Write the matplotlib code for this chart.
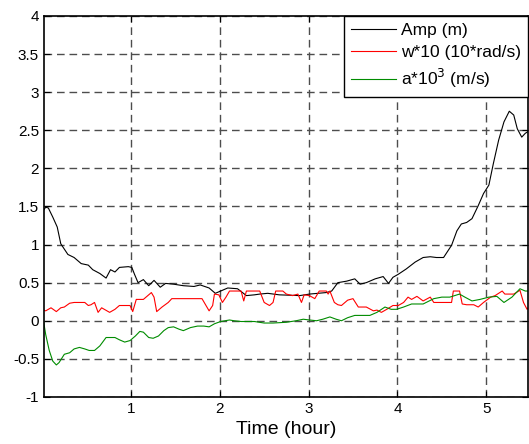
import matplotlib
matplotlib.use('Agg')
import matplotlib.pyplot as plt

plt.rcParams['font.family'] = ['Liberation Sans', 'DejaVu Sans']

# Amp (m)
amp_t = [0.015, 0.04, 0.07, 0.12, 0.17, 0.21, 0.29, 0.36, 0.44, 0.52, 0.57, 0.65, 0.72,
         0.77, 0.82, 0.87, 0.97, 1.01, 1.04, 1.08, 1.14, 1.20, 1.26, 1.33, 1.39, 1.48,
         1.59, 1.71, 1.78, 1.88, 1.95, 2.01, 2.09, 2.20, 2.30, 2.39, 2.45, 2.54, 2.67,
         2.90, 3.01, 3.20, 3.26, 3.33, 3.43, 3.52, 3.58, 3.65, 3.75, 3.84, 3.90, 3.95,
         4.01, 4.10, 4.20, 4.29, 4.37, 4.44, 4.52, 4.61, 4.67, 4.72, 4.78, 4.84, 4.91,
         4.97, 5.03, 5.08, 5.14, 5.20, 5.26, 5.31, 5.35, 5.40, 5.44, 5.48]
amp_v = [1.45, 1.49, 1.48, 1.36, 1.23, 1.01, 0.87, 0.83, 0.75, 0.73, 0.67, 0.62, 0.56,
         0.67, 0.64, 0.70, 0.71, 0.70, 0.61, 0.50, 0.54, 0.46, 0.53, 0.44, 0.49, 0.48,
         0.46, 0.45, 0.47, 0.43, 0.36, 0.39, 0.43, 0.42, 0.33, 0.34, 0.35, 0.36, 0.34,
         0.33, 0.35, 0.37, 0.39, 0.50, 0.52, 0.55, 0.48, 0.50, 0.55, 0.58, 0.49, 0.57,
         0.61, 0.68, 0.77, 0.83, 0.84, 0.83, 0.83, 0.99, 1.18, 1.27, 1.29, 1.34, 1.51,
         1.67, 1.78, 2.06, 2.37, 2.61, 2.75, 2.70, 2.52, 2.41, 2.46, 2.49]

# w*10 (10*rad/s)
w_t = [0.015, 0.04, 0.10, 0.16, 0.21, 0.25, 0.31, 0.36, 0.48, 0.52, 0.55, 0.59, 0.63,
       0.67, 0.70, 0.76, 0.82, 0.87, 0.99, 1.02, 1.06, 1.14, 1.23, 1.26, 1.29, 1.35,
       1.42, 1.46, 1.80, 1.84, 1.88, 1.92, 1.94, 1.99, 2.03, 2.07, 2.11, 2.24, 2.27,
       2.30, 2.45, 2.50, 2.56, 2.60, 2.63, 2.71, 2.75, 2.82, 2.88, 2.92, 2.95, 3.01,
       3.07, 3.12, 3.20, 3.22, 3.24, 3.29, 3.33, 3.37, 3.44, 3.50, 3.56, 3.65, 3.73,
       3.77, 3.82, 3.88, 3.95, 4.01, 4.07, 4.12, 4.16, 4.22, 4.29, 4.37, 4.41, 4.61,
       4.63, 4.70, 4.73, 4.78, 4.86, 4.91, 4.97, 5.05, 5.10, 5.18, 5.21, 5.31, 5.38,
       5.42, 5.46, 5.48]
w_v = [0.14, 0.13, 0.17, 0.12, 0.17, 0.18, 0.23, 0.24, 0.24, 0.20, 0.21, 0.24, 0.11,
       0.17, 0.15, 0.11, 0.15, 0.20, 0.20, 0.12, 0.28, 0.28, 0.37, 0.31, 0.12, 0.18,
       0.24, 0.29, 0.29, 0.21, 0.13, 0.20, 0.35, 0.34, 0.24, 0.31, 0.39, 0.39, 0.26,
       0.39, 0.39, 0.24, 0.20, 0.24, 0.39, 0.39, 0.35, 0.33, 0.35, 0.24, 0.34, 0.33,
       0.29, 0.39, 0.39, 0.35, 0.39, 0.24, 0.21, 0.20, 0.27, 0.29, 0.18, 0.18, 0.13,
       0.14, 0.11, 0.15, 0.20, 0.20, 0.24, 0.31, 0.28, 0.32, 0.26, 0.31, 0.24, 0.24,
       0.39, 0.39, 0.22, 0.21, 0.21, 0.18, 0.24, 0.31, 0.33, 0.39, 0.35, 0.35, 0.40,
       0.24, 0.15, 0.18]

# a*10^3 (m/s)
a_t = [0.015, 0.04, 0.08, 0.12, 0.16, 0.19, 0.25, 0.31, 0.36, 0.42, 0.48, 0.53, 0.59,
       0.65, 0.72, 0.82, 0.87, 0.93, 0.99, 1.05, 1.10, 1.14, 1.20, 1.25, 1.31, 1.37,
       1.42, 1.48, 1.54, 1.59, 1.67, 1.75, 1.82, 1.88, 1.94, 2.01, 2.11, 2.16, 2.24,
       2.39, 2.50, 2.60, 2.75, 2.86, 2.94, 3.01, 3.09, 3.16, 3.24, 3.31, 3.37, 3.44,
       3.52, 3.69, 3.77, 3.86, 3.93, 3.99, 4.07, 4.16, 4.29, 4.41, 4.50, 4.59, 4.70,
       4.76, 4.84, 4.93, 5.03, 5.12, 5.20, 5.29, 5.38, 5.44, 5.48]
a_v = [0.0, -0.18, -0.39, -0.53, -0.58, -0.55, -0.44, -0.42, -0.37, -0.35, -0.37, -0.39,
       -0.39, -0.33, -0.22, -0.22, -0.25, -0.28, -0.26, -0.20, -0.14, -0.15, -0.22, -0.23,
       -0.20, -0.13, -0.09, -0.08, -0.11, -0.13, -0.09, -0.07, -0.07, -0.08, -0.04, -0.01,
       0.01, 0.0, -0.01, -0.01, -0.03, -0.03, -0.02, 0.0, 0.02, 0.01, 0.0, 0.02, 0.05,
       0.02, 0.0, 0.04, 0.07, 0.07, 0.11, 0.18, 0.15, 0.15, 0.18, 0.22, 0.22, 0.29, 0.31,
       0.31, 0.35, 0.31, 0.26, 0.28, 0.31, 0.32, 0.24, 0.31, 0.42, 0.39, 0.39]

fig = plt.figure(figsize=(5.29, 4.44), dpi=100)
ax = fig.add_axes([0.083, 0.106, 0.915, 0.858])

ax.plot(amp_t, amp_v, color='black', lw=0.8, label='Amp (m)')
ax.plot(w_t, w_v, color='red', lw=0.8, label='w*10 (10*rad/s)')
ax.plot(a_t, a_v, color=(0, 0.55, 0), lw=0.8, label='a*10$^3$ (m/s)')

ax.set_xlim(0.02, 5.47)
ax.set_ylim(-1, 4)
ax.set_xticks([1, 2, 3, 4, 5])
ax.set_yticks([-1, -0.5, 0, 0.5, 1, 1.5, 2, 2.5, 3, 3.5, 4])
ax.set_yticklabels(['-1', '-0.5', '0', '0.5', '1', '1.5', '2', '2.5', '3', '3.5', '4'])
ax.tick_params(direction='in', labelsize=11, top=True, right=True, length=4)
ax.grid(True, color='0.3', linestyle=(0, (5.5, 3.5)), linewidth=1)
for s in ax.spines.values():
    s.set_linewidth(1.2)
ax.set_xlabel('Time (hour)', fontsize=14, labelpad=4)

leg = ax.legend(loc='upper right', fontsize=12.5, handlelength=2.6, handletextpad=0.3,
                fancybox=False, framealpha=1, borderaxespad=0, labelspacing=0.4,
                borderpad=0.4)
leg.get_frame().set_edgecolor('black')
leg.get_frame().set_linewidth(1)

fig.savefig('out.png', dpi=100)
